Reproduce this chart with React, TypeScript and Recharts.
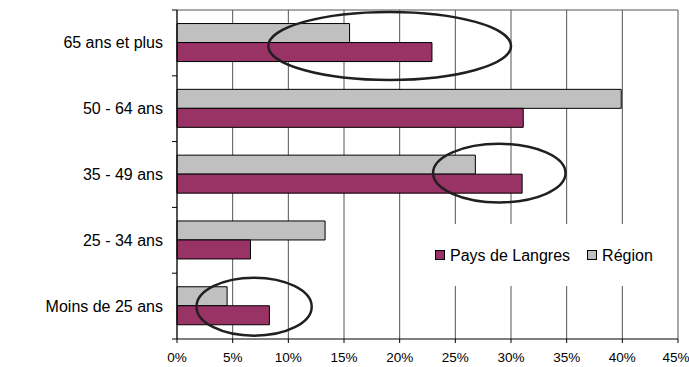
import React from 'react';
import {
  BarChart,
  Bar,
  XAxis,
  YAxis,
  CartesianGrid,
  Legend,
  ReferenceArea,
} from 'recharts';

// Categories (top to bottom)
const categories = ['65 ans et plus', '50 - 64 ans', '35 - 49 ans', '25 - 34 ans', 'Moins de 25 ans'];
// Series values in %
const regionValues = [15.5, 39.9, 26.8, 13.3, 4.5];
const paysValues = [22.9, 31.1, 31.0, 6.6, 8.3];
// X axis ticks
const xTicks = [0, 5, 10, 15, 20, 25, 30, 35, 40, 45];

// Annotation ellipses (data coordinates: x range in %, category)
const ellipseCategories = ['65 ans et plus', '35 - 49 ans', 'Moins de 25 ans'];
const ellipseFrom = [8.2, 23.0, 1.75];
const ellipseTo = [30.0, 34.9, 12.1];

const data = categories.map((c, i) => ({
  name: c,
  region: regionValues[i],
  pays: paysValues[i],
}));

const FONT = '"Liberation Sans", Arial, Helvetica, sans-serif';
const MAROON = '#993366';
const GREY = '#C0C0C0';

const ellipseStyle = [
  { dy: 3, ry: 34 },
  { dy: -1.4, ry: 29.3 },
  { dy: 0.6, ry: 29 },
];

const YTick = (props: any) => {
  const { x, y, payload, index, visibleTicksCount } = props;
  const half = payload && typeof payload.offset === 'number' && payload.offset > 0 ? payload.offset : 33;
  const axisX = x + 14;
  const isLast = index === visibleTicksCount - 1;
  return (
    <g>
      <line x1={axisX - 5} x2={axisX} y1={y - half} y2={y - half} stroke="#000" strokeWidth={1} />
      {isLast ? (
        <line x1={axisX - 5} x2={axisX} y1={y + half} y2={y + half} stroke="#000" strokeWidth={1} />
      ) : null}
      <text
        x={x}
        y={y}
        textAnchor="end"
        dominantBaseline="central"
        fontFamily={FONT}
        fontSize={16}
        fill="#000"
      >
        {payload.value}
      </text>
    </g>
  );
};

const XTick = (props: any) => {
  const { x, y, payload, index, visibleTicksCount } = props;
  const isLast = index === visibleTicksCount - 1;
  return (
    <text
      x={x}
      y={y}
      dx={isLast ? -2 : 0}
      dy="0.71em"
      textAnchor="middle"
      fontFamily={FONT}
      fontSize={13.5}
      fill="#000"
    >
      {`${payload.value}%`}
    </text>
  );
};

const LegendContent = (props: any) => {
  const payload = [...(props.payload || [])].sort((a: any, b: any) =>
    a.value === 'Pays de Langres' ? -1 : b.value === 'Pays de Langres' ? 1 : 0
  );
  return (
    <div
      style={{
        width: '100%',
        height: '100%',
        background: '#fff',
        display: 'flex',
        alignItems: 'center',
        justifyContent: 'flex-start',
        paddingLeft: 15,
        boxSizing: 'border-box',
        fontFamily: FONT,
        fontSize: 16,
        color: '#000',
      }}
    >
      {payload.map((p: any, i: number) => (
        <div key={i} style={{ display: 'flex', alignItems: 'center', marginRight: 17 }}>
          <svg width={10} height={10} style={{ marginRight: 5 }}>
            <rect x={0.5} y={0.5} width={9} height={9} fill={p.color} stroke="#000" strokeWidth={1} />
          </svg>
          <span style={{ lineHeight: '16px', position: 'relative', top: 1 }}>{p.value}</span>
        </div>
      ))}
    </div>
  );
};

const makeEllipse = (i: number) => (props: any) => {
  const { x, y, width, height } = props;
  if (x == null || y == null) return null;
  const s = ellipseStyle[i];
  return (
    <ellipse
      cx={x + width / 2}
      cy={y + height / 2 + s.dy}
      rx={width / 2}
      ry={s.ry}
      fill="none"
      stroke="#231f20"
      strokeWidth={2.5}
    />
  );
};

export default function App() {
  return (
    <div style={{ position: 'absolute', left: 0, top: 0, width: 689, height: 367, background: '#fff' }}>
      <BarChart
        width={689}
        height={367}
        data={data}
        layout="vertical"
        margin={{ top: 10, right: 11, bottom: 0, left: 0 }}
        barCategoryGap="20.6%"
        barGap={0}
      >
        <CartesianGrid
          vertical={true}
          horizontal={true}
          stroke="#555"
          strokeWidth={1}
          horizontalCoordinatesGenerator={(args: any) => [args.offset.top]}
        />
        <XAxis
          type="number"
          domain={[0, 45]}
          ticks={xTicks}
          axisLine={{ stroke: '#000' }}
          tickLine={{ stroke: '#000' }}
          tickSize={4}
          tickMargin={9}
          height={28}
          tick={<XTick />}
          interval={0}
        />
        <YAxis
          type="category"
          dataKey="name"
          width={177}
          axisLine={{ stroke: '#000' }}
          tickLine={false}
          tickSize={5}
          tickMargin={9}
          tick={<YTick />}
          interval={0}
        />
        <Legend
          layout="horizontal"
          verticalAlign="middle"
          align="center"
          content={<LegendContent />}
          wrapperStyle={{ position: 'absolute', left: 420, top: 224, width: 256, height: 62 }}
        />
        <Bar dataKey="region" name="Région" fill={GREY} stroke="#000" strokeWidth={1} isAnimationActive={false} />
        <Bar dataKey="pays" name="Pays de Langres" fill={MAROON} stroke="#000" strokeWidth={1} isAnimationActive={false} />
        {ellipseCategories.map((c, i) => (
          <ReferenceArea
            key={c}
            x1={ellipseFrom[i]}
            x2={ellipseTo[i]}
            y1={c}
            y2={c}
            shape={makeEllipse(i)}
            ifOverflow="visible"
            zIndex={1500}
          />
        ))}
      </BarChart>
    </div>
  );
}
